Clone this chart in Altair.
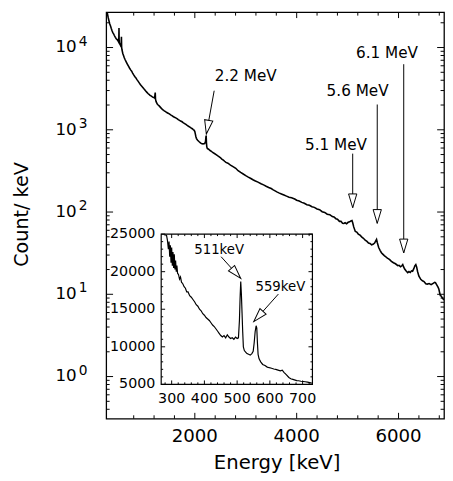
import altair as alt
import pandas as pd

FONT = "DejaVu Sans"

# ---------------- main spectrum (energy keV, counts/keV) ----------------
energy = [262, 280, 300, 315, 330, 345, 360, 375, 390, 405, 420, 440, 457, 475, 490, 503, 508, 511, 514, 518,
          530, 545, 553, 559, 563, 570, 586, 600, 615, 630, 650, 675, 700, 720, 740, 760, 779, 800, 820, 840,
          860, 885, 908, 930, 950, 975, 1000, 1020, 1036, 1060, 1080, 1100, 1120, 1140, 1160, 1180, 1198, 1212,
          1218, 1223, 1228, 1240, 1263, 1280, 1300, 1330, 1358, 1380, 1400, 1425, 1450, 1475, 1500, 1525, 1551,
          1575, 1600, 1625, 1650, 1675, 1700, 1720, 1743, 1770, 1800, 1825, 1850, 1875, 1903, 1925, 1950, 1970,
          1988, 2000, 2010, 2020, 2033, 2055, 2080, 2105, 2129, 2160, 2193, 2210, 2218, 2223, 2228, 2235, 2245,
          2270, 2300, 2325, 2350, 2385, 2418, 2460, 2500, 2530, 2560, 2585, 2611, 2650, 2700, 2750, 2804, 2850,
          2900, 2950, 3000, 3050, 3100, 3150, 3190, 3240, 3300, 3350, 3400, 3450, 3500, 3540, 3576, 3610, 3650,
          3700, 3750, 3800, 3850, 3900, 3961, 4000, 4050, 4100, 4150, 4200, 4250, 4300, 4347, 4400, 4450, 4500,
          4550, 4600, 4650, 4700, 4733, 4770, 4800, 4840, 4870, 4900, 4926, 4950, 4980, 5010, 5040, 5065, 5086,
          5100, 5120, 5151, 5180, 5210, 5250, 5280, 5311, 5345, 5380, 5410, 5440, 5471, 5500, 5530, 5555, 5568,
          5585, 5610, 5640, 5664, 5690, 5720, 5750, 5780, 5805, 5826, 5860, 5900, 5940, 5986, 6010, 6040, 6065,
          6083, 6100, 6120, 6150, 6180, 6205, 6230, 6255, 6276, 6300, 6320, 6339, 6355, 6375, 6400, 6420, 6436,
          6470, 6500, 6535, 6565, 6600, 6640, 6680, 6710, 6725, 6750, 6775, 6791, 6805, 6822, 6840, 6860, 6880,
          6893]
counts = [30500, 26500, 23000, 21000, 19300, 18300, 17000, 16000, 15200, 14700, 14000, 13300, 12800, 12500,
          12100, 11700, 13000, 17300, 12200, 11300, 11000, 10500, 10700, 13500, 10100, 9400, 8480, 8000, 7500,
          7150, 6750, 6300, 5900, 5600, 5350, 5150, 4890, 4650, 4450, 4300, 4100, 3900, 3720, 3560, 3420, 3290,
          3150, 3050, 2960, 2850, 2760, 2700, 2620, 2580, 2530, 2490, 2460, 2430, 2700, 2830, 2350, 2200, 2050,
          2000, 1950, 1860, 1780, 1740, 1700, 1660, 1620, 1590, 1560, 1520, 1490, 1450, 1420, 1395, 1370, 1330,
          1300, 1280, 1260, 1220, 1190, 1160, 1130, 1105, 1080, 1055, 1030, 1005, 985, 950, 890, 830, 782, 745,
          720, 700, 681, 675, 681, 720, 820, 850, 700, 620, 594, 580, 560, 548, 530, 515, 500, 478, 460, 440,
          428, 414, 401, 392, 372, 356, 340, 318, 303, 290, 277, 266, 256, 245, 238, 231, 221, 214, 206, 199,
          193, 186, 181, 176, 171, 166, 161, 156, 151, 149, 144, 139, 136, 131, 128, 123, 121, 116, 114, 109,
          107, 101, 99, 94, 93, 88, 87, 83, 82, 77, 77, 73, 72.5, 74, 72, 75, 76, 78, 79, 74, 66, 58, 57, 54,
          52, 49.5, 48, 45.5, 44, 42, 41.5, 40, 40.5, 42, 45, 46.5, 42, 37, 34, 32, 30.8, 29.5, 28.6, 27.5, 27,
          26.4, 25.2, 24.2, 23.5, 22.3, 22.5, 21.6, 22.2, 23.0, 21.5, 20.3, 19.2, 18.3, 18.9, 18.4, 19.3, 19.1,
          20.5, 22.2, 23, 21.5, 18.8, 16.6, 15.8, 15.2, 14.6, 14.3, 13.4, 13.3, 13.5, 13.1, 13.6, 14, 13.9,
          13.0, 12.2, 11.6, 10.6, 9.6, 9.5, 9.0, 8.7, 8.5]

# ---------------- inset spectrum ----------------
inset_energy = [284, 287, 290, 292, 294, 296, 298, 300, 302, 304, 306, 308, 310, 312, 314, 316, 318, 321, 324,
                327, 330, 334, 338, 342, 346, 350, 355, 360, 365, 370, 375, 380, 385, 390, 395, 400, 405, 410,
                415, 420, 425, 430, 435, 440, 445, 450, 455, 460, 465, 470, 475, 480, 485, 490, 495, 500, 504,
                507, 509, 511, 513, 515, 517, 519, 522, 526, 530, 535, 540, 545, 549, 552, 555, 558, 560, 562,
                564, 567, 572, 578, 585, 592, 598, 605, 612, 618, 625, 632, 638, 643, 650, 658, 664, 668, 675,
                682, 688, 695, 702, 708, 715, 722, 728]
inset_counts = [24900, 24200, 23000, 24000, 22000, 23500, 21200, 23200, 20800, 22600, 20500, 22300, 20300,
                21500, 20000, 20800, 19800, 19600, 19000, 19300, 18600, 18400, 18000, 17800, 17300, 17300,
                16800, 16600, 16300, 16000, 15600, 15400, 15000, 14800, 14400, 14200, 13900, 13700, 13500,
                13200, 12900, 12700, 12400, 12100, 11800, 11500, 11300, 11500, 11200, 11600, 11300, 11100,
                11200, 11000, 11300, 11100, 11200, 13500, 16500, 18700, 17000, 14500, 12000, 10000, 9500, 9300,
                9100, 9000, 8900, 9100, 9400, 10500, 12000, 12800, 12500, 10500, 9000, 8400, 8000, 7650, 7500,
                7300, 7220, 7150, 7050, 7000, 6900, 6800, 6900, 6600, 6300, 5920, 5750, 5690, 5600, 5500, 5480,
                5420, 5380, 5350, 5300, 5230, 5170]

# ---------------- annotations ----------------
ann_label = ["2.2 MeV", "5.1 MeV", "5.6 MeV", "6.1 MeV"]
ann_text_e = [3001, 4772, 5196, 5774]
ann_text_c = [4510, 658, 2985, 8480]
ann_start_e = [2380, 5100, 5582, 6102]
ann_start_c = [2985, 513, 2029, 6270]
ann_tip_e = [2226, 5100, 5582, 6102]
ann_tip_c = [890, 113, 72.9, 31.9]
ann_angle = [10, 0, 0, 0]

in_label = ["511keV", "559keV"]
in_text_e = [445, 632]
in_text_c = [22900, 17940]
in_start_e = [451, 626]
in_start_c = [21990, 17020]
in_tip_e = [511, 551]
in_tip_c = [19100, 13360]
in_angle = [318, 42]

# ---------------- ticks and titles ----------------
x_title = "Energy [keV]"
y_title = "Count/ keV"
x_major = [2000, 4000, 6000]
x_minor = [800, 1200, 1600, 2400, 2800, 3200, 3600, 4400, 4800, 5200, 5600, 6400, 6800]
y_major = [1, 10, 100, 1000, 10000]
y_exp = ["0", "1", "2", "3", "4"]
y_minor = [m * 10.0 ** d for d in range(-1, 5) for m in range(2, 10)
           if 0.307 < m * 10.0 ** d < 26900]
ix_major = [300, 400, 500, 600, 700]
ix_minor = [v for v in range(280, 730, 20) if v % 100 != 0]
iy_major = [5000, 10000, 15000, 20000, 25000]
iy_minor = [v for v in range(6000, 25000, 1000) if v % 5000 != 0]

# ---------------- layout ----------------
W, H = 344, 414
xs = alt.Scale(domain=[260, 6893], nice=False, zero=False)
ys = alt.Scale(type="log", domain=[0.307, 26900], nice=False)
IL, IR, IT, IB = 56, 210, 226, 379
ixs = alt.Scale(domain=[268, 730], range=[IL, IR], nice=False, zero=False)
iys = alt.Scale(domain=[5000, 25000], range=[IB, IT], nice=False, zero=False)
HEAD = "M0,0L-0.3,-1L0.3,-1Z"

main_df = pd.DataFrame({"e": energy, "c": counts})
line = alt.Chart(main_df).mark_line(color="black", strokeWidth=1.6, clip=True).encode(
    x=alt.X("e:Q", scale=xs, axis=None),
    y=alt.Y("c:Q", scale=ys, axis=None),
)


def xtick_layers(vals, scale, bottom, top, length):
    df = pd.DataFrame({"v": vals})
    base = alt.Chart(df).mark_rule(color="black", strokeWidth=1)
    x = alt.X("v:Q", scale=scale, axis=None)
    return [base.encode(x=x, y=alt.value(bottom), y2=alt.value(bottom - length)),
            base.encode(x=x, y=alt.value(top), y2=alt.value(top + length))]


def ytick_layers(vals, scale, left, right, length):
    df = pd.DataFrame({"v": vals})
    base = alt.Chart(df).mark_rule(color="black", strokeWidth=1)
    y = alt.Y("v:Q", scale=scale, axis=None)
    return [base.encode(y=y, x=alt.value(left), x2=alt.value(left + length)),
            base.encode(y=y, x=alt.value(right), x2=alt.value(right - length))]


# x tick labels and titles
xlab = alt.Chart(pd.DataFrame({"v": x_major})).mark_text(
    fontSize=18.5, font=FONT, color="black", align="center", baseline="middle").encode(
    x=alt.X("v:Q", scale=xs, axis=None), y=alt.value(H + 18), text="v:N")
titles = alt.Chart(pd.DataFrame({"t": [x_title]})).mark_text(
    fontSize=20, font=FONT, color="black", align="center", baseline="middle").encode(
    x=alt.value(174), y=alt.value(H + 45), text="t:N")
ytitle = alt.Chart(pd.DataFrame({"t": [y_title]})).mark_text(
    fontSize=19.5, font=FONT, color="black", align="center", baseline="middle", angle=270).encode(
    x=alt.value(-86), y=alt.value(206), text="t:N")

dec_df = pd.DataFrame({"v": y_major, "exp": y_exp})
ten = alt.Chart(dec_df).mark_text(text="10", align="right", baseline="middle", fontSize=17,
                                  font=FONT, color="black").encode(
    x=alt.value(-30), y=alt.Y("v:Q", scale=ys, axis=None))
expo = alt.Chart(dec_df).mark_text(align="left", baseline="middle", fontSize=14, font=FONT,
                                   color="black", dy=-6).encode(
    x=alt.value(-28), y=alt.Y("v:Q", scale=ys, axis=None), text="exp:N")

ann_df = pd.DataFrame({"label": ann_label, "xe": ann_text_e, "xc": ann_text_c,
                       "se": ann_start_e, "sc": ann_start_c, "te": ann_tip_e, "tc": ann_tip_c,
                       "ang": ann_angle})
a_rule = alt.Chart(ann_df).mark_rule(color="black", strokeWidth=1).encode(
    x=alt.X("se:Q", scale=xs, axis=None), y=alt.Y("sc:Q", scale=ys, axis=None),
    x2="te:Q", y2="tc:Q")
a_head = alt.Chart(ann_df).mark_point(shape=HEAD, filled=True, fill="white", stroke="black",
                                      strokeWidth=1, size=784, opacity=1).encode(
    x=alt.X("te:Q", scale=xs, axis=None), y=alt.Y("tc:Q", scale=ys, axis=None),
    angle=alt.Angle("ang:Q", scale=None))
a_text = alt.Chart(ann_df).mark_text(fontSize=15.5, font=FONT, color="black", align="center",
                                     baseline="middle").encode(
    x=alt.X("xe:Q", scale=xs, axis=None), y=alt.Y("xc:Q", scale=ys, axis=None), text="label:N")

main_layer = alt.layer(
    line,
    *xtick_layers(x_major, xs, H, 0, 6), *xtick_layers(x_minor, xs, H, 0, 3.5),
    *ytick_layers(y_major, ys, 0, W, 7), *ytick_layers(y_minor, ys, 0, W, 3.5),
    xlab, titles, ytitle, ten, expo, a_rule, a_head, a_text,
)

# ---------------- inset ----------------
frame = alt.Chart(pd.DataFrame({"a": [0]})).mark_rect(fill="white", stroke="black",
                                                       strokeWidth=1.2).encode(
    x=alt.value(IL), x2=alt.value(IR), y=alt.value(IT), y2=alt.value(IB))
inset_df = pd.DataFrame({"e": inset_energy, "c": inset_counts})
iline = alt.Chart(inset_df).mark_line(color="black", strokeWidth=1.2).encode(
    x=alt.X("e:Q", scale=ixs, axis=None), y=alt.Y("c:Q", scale=iys, axis=None))

ixl = alt.Chart(pd.DataFrame({"v": ix_major})).mark_text(
    fontSize=14.5, font=FONT, color="black", align="center", baseline="middle").encode(
    x=alt.X("v:Q", scale=ixs, axis=None), y=alt.value(IB + 15), text="v:N")
iyl = alt.Chart(pd.DataFrame({"v": iy_major})).mark_text(
    fontSize=14.5, font=FONT, color="black", align="right", baseline="middle").encode(
    y=alt.Y("v:Q", scale=iys, axis=None), x=alt.value(IL - 6), text="v:N")

in_df = pd.DataFrame({"label": in_label, "xe": in_text_e, "xc": in_text_c,
                      "se": in_start_e, "sc": in_start_c, "te": in_tip_e, "tc": in_tip_c,
                      "ang": in_angle})
i_rule = alt.Chart(in_df).mark_rule(color="black", strokeWidth=1).encode(
    x=alt.X("se:Q", scale=ixs, axis=None), y=alt.Y("sc:Q", scale=iys, axis=None),
    x2="te:Q", y2="tc:Q")
i_head = alt.Chart(in_df).mark_point(shape=HEAD, filled=True, fill="white", stroke="black",
                                     strokeWidth=1, size=784, opacity=1).encode(
    x=alt.X("te:Q", scale=ixs, axis=None), y=alt.Y("tc:Q", scale=iys, axis=None),
    angle=alt.Angle("ang:Q", scale=None))
i_text = alt.Chart(in_df).mark_text(fontSize=13.5, font=FONT, color="black", align="center",
                                    baseline="middle").encode(
    x=alt.X("xe:Q", scale=ixs, axis=None), y=alt.Y("xc:Q", scale=iys, axis=None), text="label:N")

inset_layer = alt.layer(
    frame, iline,
    *xtick_layers(ix_major, ixs, IB, IT, 4), *xtick_layers(ix_minor, ixs, IB, IT, 2),
    *ytick_layers(iy_major, iys, IL, IR, 4), *ytick_layers(iy_minor, iys, IL, IR, 2),
    ixl, iyl, i_rule, i_head, i_text,
)

chart = alt.layer(main_layer, inset_layer).resolve_scale(
    x="independent", y="independent"
).properties(
    width=W, height=H,
    padding={"left": 100, "top": 0, "right": 1, "bottom": 51},
    autosize=alt.AutoSizeParams(type="none"),
    background="white",
).configure_view(stroke="black", strokeWidth=1.3)

chart.save("out.html", embed_options={"renderer": "svg", "actions": False})
